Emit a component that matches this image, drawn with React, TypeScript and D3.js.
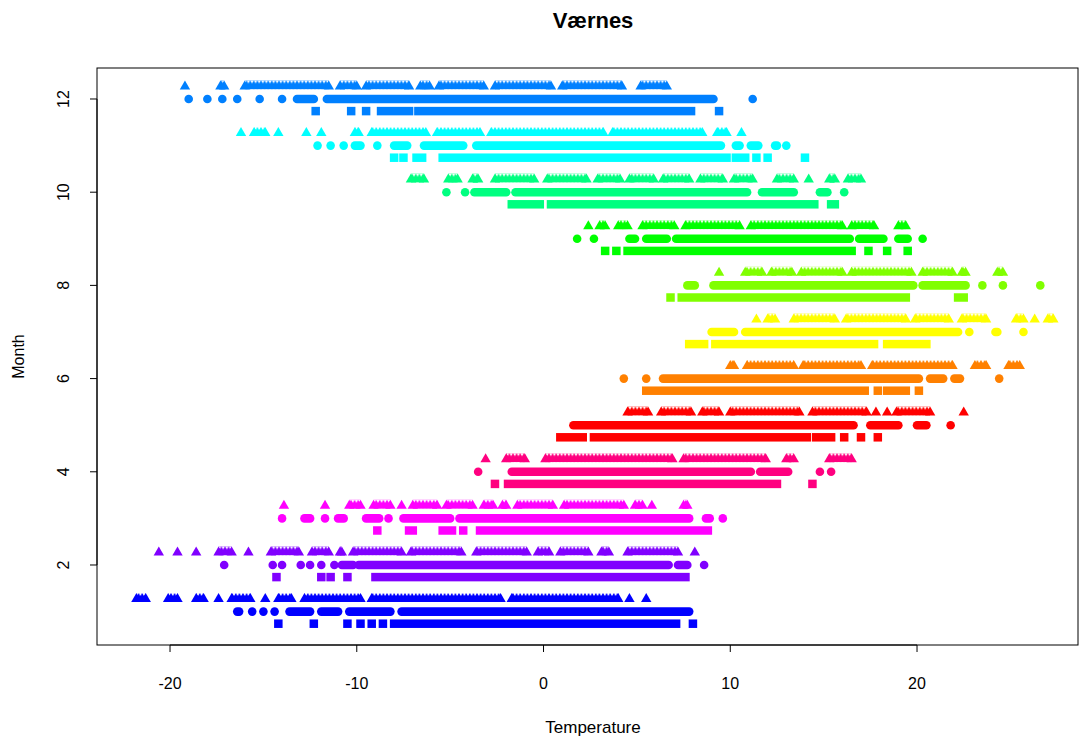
import React from "react";
import * as d3 from "d3";

// Værnes: daily temperatures by month, three series per month
// each series is a list of [lo, hi] runs of observed values (°C); [v, v] is a single point
type Run = [number, number];

const monthColors = ["#0000FF", "#8000FF", "#FF00FF", "#FF0080", "#FF0000", "#FF8000",
  "#FFFF00", "#80FF00", "#00FF00", "#00FF80", "#00FFFF", "#0080FF"];
const xTicks = [-20, -10, 0, 10, 20];
const yTicks = [2, 4, 6, 8, 10, 12];

// triangles (upper row of each month)
const triRuns: Run[][] = [
  [[-21.8, -21.3], [-20.1, -19.6], [-18.6, -18.2], [-17.4, -17.4], [-16.7, -15.7], [-14.9, -14.9], [-14.2, -13.5], [-12.8, -9.8], [-9.2, -2.3], [-1.7, 4.0], [4.6, 4.6], [5.5, 5.5]],
  [[-20.6, -20.6], [-19.6, -19.6], [-18.6, -18.6], [-17.4, -16.7], [-15.8, -15.8], [-14.6, -13.1], [-12.4, -11.5], [-10.9, -10.8], [-10.2, -7.6], [-7.1, -4.4], [-3.6, -0.9], [-0.3, 0.3], [0.9, 2.4], [3.1, 3.5], [4.5, 7.2], [8.1, 8.1]],
  [[-13.9, -13.9], [-11.7, -11.7], [-10.4, -9.8], [-9.1, -8.2], [-7.6, -7.6], [-7.0, -5.7], [-5.2, -3.8], [-3.2, -2.7], [-2.2, -2.0], [-1.4, 0.5], [1.1, 4.3], [4.9, 5.3], [5.8, 5.8], [7.5, 7.7]],
  [[-3.1, -3.1], [-2.0, -1.0], [0.1, 6.9], [7.5, 11.9], [13.0, 13.4], [15.3, 16.5]],
  [[4.5, 5.6], [6.3, 7.9], [8.5, 9.4], [10.0, 13.7], [14.4, 17.3], [17.8, 17.8], [18.4, 18.4], [18.9, 20.7], [22.5, 22.5]],
  [[10.0, 10.2], [10.9, 13.4], [13.9, 17.0], [17.6, 21.9], [23.1, 23.7], [24.9, 25.5]],
  [[11.4, 11.4], [12.0, 12.4], [13.4, 15.6], [16.2, 19.4], [19.9, 21.7], [22.4, 23.7], [25.3, 25.7], [26.3, 26.3], [27.0, 27.3]],
  [[9.4, 9.4], [10.8, 11.7], [12.2, 13.3], [13.8, 16.0], [16.5, 19.7], [20.3, 21.9], [22.4, 22.6], [24.3, 24.6]],
  [[2.4, 2.4], [3.0, 3.3], [4.0, 4.5], [5.3, 7.0], [7.6, 10.5], [11.1, 16.0], [16.5, 17.7], [19.0, 19.4]],
  [[-7.1, -6.4], [-5.1, -4.6], [-3.8, -3.5], [-2.6, -0.5], [0.2, 2.3], [2.9, 4.1], [4.6, 5.9], [6.4, 7.8], [8.4, 9.6], [10.2, 11.2], [12.5, 13.4], [14.2, 14.2], [15.3, 15.6], [16.3, 17.0]],
  [[-16.2, -16.2], [-15.5, -14.9], [-14.2, -14.2], [-12.7, -12.7], [-11.9, -11.9], [-10.1, -9.9], [-9.2, -6.3], [-5.7, -3.4], [-2.8, 3.2], [3.7, 8.5], [9.3, 9.8], [10.6, 10.6]],
  [[-19.2, -19.2], [-17.3, -17.1], [-16.0, -11.5], [-10.9, -10.0], [-9.5, -7.2], [-6.6, -6.1], [-5.6, -3.2], [-2.6, 0.4], [1.0, 4.2], [5.2, 6.6]],
];

// filled circles (middle row)
const dotRuns: Run[][] = [
  [[-16.4, -16.3], [-15.6, -15.6], [-15.0, -15.0], [-14.4, -14.4], [-13.6, -12.5], [-11.9, -11.0], [-10.4, -8.2], [-7.6, 7.8]],
  [[-17.1, -17.1], [-14.5, -14.5], [-14.0, -14.0], [-13.0, -13.0], [-12.5, -12.5], [-11.9, -11.9], [-11.2, -11.2], [-10.8, -10.2], [-9.9, 6.7], [7.2, 7.7], [8.6, 8.6]],
  [[-14.0, -14.0], [-12.8, -12.5], [-11.7, -11.7], [-11.0, -10.7], [-9.5, -8.8], [-8.3, -8.3], [-7.5, -5.0], [-4.5, 7.8], [8.7, 8.9], [9.6, 9.6]],
  [[-3.5, -3.5], [-1.7, 11.1], [11.6, 13.1], [14.8, 14.8], [15.4, 15.4]],
  [[1.6, 16.6], [17.5, 19.0], [20.0, 20.5], [21.8, 21.8]],
  [[4.3, 4.3], [5.5, 5.5], [6.4, 20.1], [20.7, 21.4], [22.0, 22.3], [24.4, 24.4]],
  [[9.0, 10.2], [10.8, 22.2], [22.8, 22.8], [24.2, 24.3], [25.7, 25.7]],
  [[7.7, 8.1], [9.1, 19.8], [20.3, 22.6], [23.5, 23.5], [24.6, 24.6], [26.6, 26.6]],
  [[1.8, 1.8], [2.7, 2.7], [4.6, 4.9], [5.5, 6.6], [7.1, 16.4], [16.9, 18.2], [19.0, 19.5], [20.3, 20.3]],
  [[-5.2, -5.2], [-4.2, -4.2], [-3.7, -2.0], [-1.5, 10.9], [11.7, 13.4], [14.8, 15.2], [16.1, 16.1]],
  [[-12.1, -12.1], [-11.4, -11.4], [-10.7, -10.7], [-10.1, -9.8], [-8.9, -8.9], [-8.0, -7.3], [-6.4, -4.3], [-3.6, 9.5], [10.3, 10.5], [11.1, 11.5], [12.4, 12.5], [13.0, 13.0]],
  [[-19.0, -19.0], [-18.0, -18.0], [-17.2, -17.2], [-16.4, -16.4], [-15.2, -15.2], [-14.0, -14.0], [-13.2, -12.3], [-11.6, 9.1], [11.2, 11.2]],
];

// filled squares (lower row)
const sqRuns: Run[][] = [
  [[-14.2, -14.2], [-12.3, -12.3], [-10.5, -10.5], [-9.8, -9.8], [-9.2, -9.2], [-8.6, -8.6], [-8.0, 7.1], [8.0, 8.0]],
  [[-14.3, -14.3], [-11.9, -11.9], [-11.4, -11.4], [-10.5, -10.5], [-9.0, 7.6]],
  [[-8.9, -8.9], [-7.2, -7.0], [-5.4, -4.9], [-4.3, -4.3], [-3.4, 8.8]],
  [[-2.6, -2.6], [-1.9, 12.5], [14.4, 14.4]],
  [[0.9, 2.1], [2.7, 14.1], [14.6, 15.4], [16.1, 16.1], [17.0, 17.0], [17.9, 17.9]],
  [[5.5, 17.2], [17.9, 17.9], [18.4, 19.4], [20.1, 20.1]],
  [[7.8, 8.6], [9.2, 17.7], [18.4, 20.5]],
  [[6.8, 6.8], [7.4, 19.4], [22.2, 22.5]],
  [[3.3, 3.3], [3.9, 3.9], [4.5, 16.5], [17.4, 17.4], [18.4, 18.4], [19.5, 19.5]],
  [[-1.7, -0.2], [0.4, 14.5], [15.4, 15.6]],
  [[-8.0, -8.0], [-7.5, -7.5], [-6.8, -6.5], [-5.4, 9.8], [10.3, 10.8], [11.4, 11.4], [12.0, 12.0], [14.0, 14.0]],
  [[-12.2, -12.2], [-10.3, -10.3], [-9.5, -9.5], [-8.7, -7.2], [-6.7, 7.9], [9.4, 9.4]],
];

const W = 1080, H = 738;
const box = { left: 97, right: 1078, top: 68, bottom: 645 };
const FONT = "'Liberation Sans', Arial, sans-serif";

const TRI_W = 10.4, TRI_H = 9, DOT_R = 4.3, SQ = 8.5, TRI_OFF = 0.27, SQ_OFF = -0.26;

export default function App() {
  const x = d3.scaleLinear().domain([-23.91, 28.62]).range([box.left, box.right]);
  const y = d3.scaleLinear().domain([0.283, 12.665]).range([box.bottom, box.top]);

  const tri = (cx: number, cy: number) =>
    `M${cx},${cy - (2 * TRI_H) / 3}L${cx + TRI_W / 2},${cy + TRI_H / 3}L${cx - TRI_W / 2},${cy + TRI_H / 3}Z`;

  return (
    <div style={{ position: "absolute", left: 0, top: 0 }}>
      <svg width={W} height={H} style={{ display: "block", background: "#fff" }} fontFamily={FONT}>
        <defs>
          {monthColors.map((c, i) => {
            const cy = y(i + 1 + TRI_OFF);
            const top = cy - (2 * TRI_H) / 3;
            const s = 3.6;
            return (
              <pattern key={i} id={"tri-" + i} patternUnits="userSpaceOnUse" x={0} y={top} width={s} height={TRI_H}>
                <path d={`M0,${TRI_H * 0.32}L${s / 2},0L${s},${TRI_H * 0.32}L${s},${TRI_H}L0,${TRI_H}Z`} fill={c} />
              </pattern>
            );
          })}
        </defs>

        <text x={593} y={28} textAnchor="middle" fontWeight="bold" fontSize={22}>Værnes</text>

        {/* data */}
        {monthColors.map((c, i) => {
          const m = i + 1;
          const ty = y(m + TRI_OFF), cyy = y(m), sy = y(m + SQ_OFF);
          return (
            <g key={m} fill={c}>
              {sqRuns[i].map(([lo, hi], k) => (
                <rect key={"s" + k} x={x(lo) - SQ / 2} y={sy - SQ / 2} width={x(hi) - x(lo) + SQ} height={SQ} />
              ))}
              {dotRuns[i].map(([lo, hi], k) => (
                <rect key={"d" + k} x={x(lo) - DOT_R} y={cyy - DOT_R} width={x(hi) - x(lo) + 2 * DOT_R} height={2 * DOT_R} rx={DOT_R} ry={DOT_R} />
              ))}
              {triRuns[i].map(([lo, hi], k) => (
                <g key={"t" + k}>
                  {hi > lo && (
                    <rect x={x(lo)} y={ty - (2 * TRI_H) / 3} width={x(hi) - x(lo)} height={TRI_H} fill={`url(#tri-${i})`} />
                  )}
                  <path d={tri(x(lo), ty)} />
                  {hi > lo && <path d={tri(x(hi), ty)} />}
                </g>
              ))}
            </g>
          );
        })}

        {/* box */}
        <rect x={box.left} y={box.top} width={box.right - box.left} height={box.bottom - box.top} fill="none" stroke="#000" strokeWidth={1} />

        {/* axes */}
        <g stroke="#000" strokeWidth={1}>
          <line x1={x(xTicks[0])} x2={x(xTicks[xTicks.length - 1])} y1={box.bottom} y2={box.bottom} />
          {xTicks.map((t) => (
            <line key={t} x1={x(t)} x2={x(t)} y1={box.bottom} y2={box.bottom + 7} />
          ))}
          <line x1={box.left} x2={box.left} y1={y(yTicks[0])} y2={y(yTicks[yTicks.length - 1])} />
          {yTicks.map((t) => (
            <line key={t} x1={box.left - 7} x2={box.left} y1={y(t)} y2={y(t)} />
          ))}
        </g>
        {xTicks.map((t) => (
          <text key={t} x={x(t)} y={689} textAnchor="middle" fontSize={16} fill="#000">{t}</text>
        ))}
        {yTicks.map((t) => (
          <text key={t} transform={`translate(69,${y(t)}) rotate(-90)`} textAnchor="middle" fontSize={16} fill="#000">{t}</text>
        ))}
        <text x={593} y={733} textAnchor="middle" fontSize={17}>Temperature</text>
        <text transform={`translate(24,${(box.top + box.bottom) / 2}) rotate(-90)`} textAnchor="middle" fontSize={16}>Month</text>
      </svg>
    </div>
  );
}
